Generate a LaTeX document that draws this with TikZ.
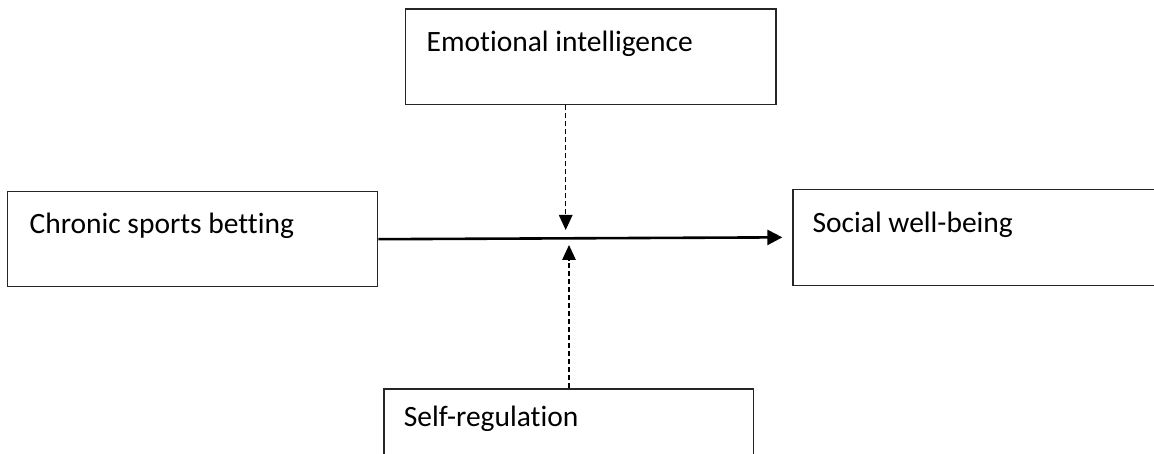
\documentclass[tikz,border=0pt]{standalone}
\usepackage{fontspec}
\setmainfont{Carlito}[Ligatures=NoCommon]
\usetikzlibrary{arrows.meta,calc}
\tikzset{
  box/.style={draw=black!85, line width=1.3pt, rectangle, inner sep=0pt},
  lbl/.style={anchor=base west, inner sep=0pt, font=\fontsize{29.5}{35}\selectfont},
  mainarrow/.style={line width=2.6pt, -{Triangle[length=15pt,width=15pt]}, shorten >=10pt},
  modarrow/.style={line width=1.3pt, dash pattern=on 5pt off 3pt, -{Triangle[length=15pt,width=13.5pt]}}
}
\begin{document}
\begin{tikzpicture}[x=1pt,y=-1pt]
\useasboundingbox (0,0) rectangle (1154,454);
\clip (0,0) rectangle (1154,454);
\fill[white] (0,0) rectangle (1154,454);
% boxes
\node[box, minimum width=370.2pt, minimum height=95pt] (chr) at (192.6,239.2) {};
\node[box, minimum width=370.3pt, minimum height=95.7pt] (emo) at (590.9,56.85) {};
\node[box, minimum width=370pt, minimum height=96pt] (soc) at (978,237.3) {};
\node[box, minimum width=369.3pt, minimum height=96pt] (self) at (568.7,437) {};
% texts
\node[lbl] (chrtxt) at ($(chr.north west)+(22.5,42.3)$) {Chronic sports betting};
\node[lbl] (emotxt) at ($(emo.north west)+(21.3,42.7)$) {Emotional intelligence};
\node[lbl] (soctxt) at ($(soc.north west)+(20,44)$) {Social well-being};
\node[lbl] (selftxt) at ($(self.north west)+(20.3,37.7)$) {Self-regulation};
% connectors
\draw[mainarrow] (chr.east) -- (soc.west);
\coordinate (m1) at (565.7,230);
\coordinate (m2) at (569,245);
\draw[modarrow] (emo.south -| m1) -- (m1);
\draw[modarrow] (self.north -| m2) -- (m2);
\end{tikzpicture}
\end{document}
